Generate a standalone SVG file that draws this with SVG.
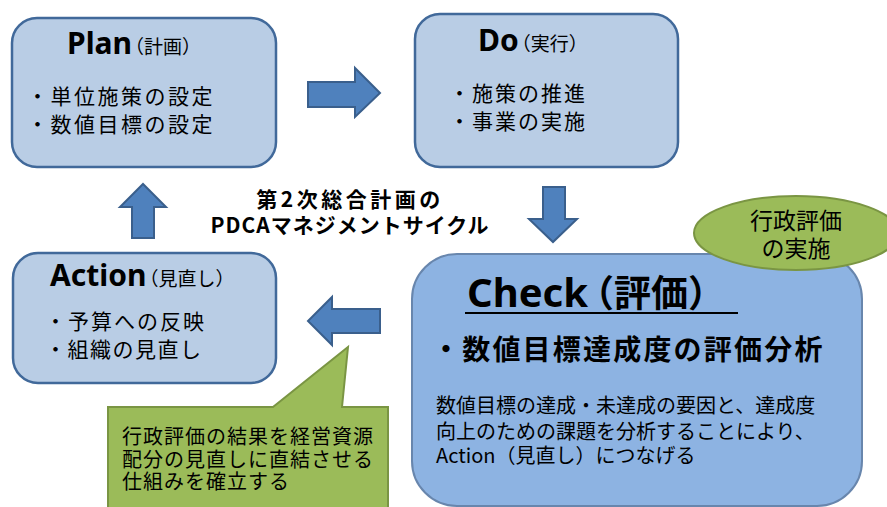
<svg xmlns="http://www.w3.org/2000/svg" width="887" height="507" viewBox="0 0 887 507">
<style>
text{font-family:"Noto Sans CJK JP","Noto Sans",sans-serif;fill:#000}
.lat{font-family:"Noto Sans","Noto Sans CJK JP",sans-serif}
.box{fill:#b9cde5;stroke:#41699a;stroke-width:2.5}
.chk{fill:#8db3e2;stroke:#6886ad;stroke-width:2}
.arr{fill:#4f81bd;stroke:#3a5f8c;stroke-width:2}
.grn{fill:#9bbb59;stroke:#7a9543;stroke-width:2}
.ttl{font-weight:bold;font-size:30px}
.sub{font-size:19px;font-weight:normal;font-family:"Noto Sans CJK JP",sans-serif}
.bul{font-size:21px}
.txt{font-size:20px}
</style>
<g id="connectors">
<polygon class="arr" points="308,82 355,82 355,68 380,93 355,117 355,107 308,107"/>
<polygon class="arr" points="543,187 565,187 565,219 577,219 553,242 529,219 543,219"/>
<polygon class="arr" points="380,309 332,309 332,297 308,321 332,345 332,333 380,333"/>
<polygon class="arr" points="132,238 154,238 154,207 166,207 143,184 120,207 132,207"/>
</g>
<g id="plan">
<rect class="box" x="12" y="18" width="264" height="149" rx="25"/>
<text x="67" y="54" class="ttl lat">Plan<tspan class="sub" dx="-7">（計画）</tspan></text>
<text class="bul" letter-spacing="2.5"><tspan x="27" y="104">・単位施策の設定</tspan><tspan x="27" y="132">・数値目標の設定</tspan></text>
</g>
<g id="do">
<rect class="box" x="415" y="14" width="263" height="153" rx="25"/>
<text x="478" y="51" class="ttl lat">Do<tspan class="sub" dx="-7">（実行）</tspan></text>
<text class="bul" letter-spacing="2"><tspan x="449" y="101">・施策の推進</tspan><tspan x="449" y="129">・事業の実施</tspan></text>
</g>
<g id="title">
<text font-size="21" font-weight="bold" text-anchor="middle"><tspan x="350" y="207" letter-spacing="3.5">第2次総合計画の</tspan><tspan x="350" y="233" letter-spacing="1">PDCAマネジメントサイクル</tspan></text>
</g>
<g id="action">
<rect class="box" x="13" y="253" width="263" height="130" rx="25"/>
<text x="50" y="286" class="ttl lat">Action<tspan class="sub" dx="-7">（見直し）</tspan></text>
<text class="bul"><tspan x="45" y="329" letter-spacing="2">・予算への反映</tspan><tspan x="45" y="357" letter-spacing="1.5">・組織の見直し</tspan></text>
</g>
<g id="check">
<rect class="chk" x="412" y="254" width="450" height="252" rx="45"/>
<text x="467" y="307" font-weight="bold" font-size="40" class="lat">Check<tspan font-size="37" dx="-11" style="font-family:'Noto Sans CJK JP',sans-serif">（評価）</tspan></text>
<line x1="465" y1="313" x2="738" y2="313" stroke="#000" stroke-width="2"/>
<text x="432" y="360" font-weight="bold" font-size="28" letter-spacing="2.2">・数値目標達成度の評価分析</text>
<text class="txt"><tspan x="436" y="413">数値目標の達成・未達成の要因と、達成度</tspan><tspan x="436" y="439">向上のための課題を分析することにより、</tspan><tspan x="436" y="463">Action（見直し）につなげる</tspan></text>
</g>
<g id="ellipse">
<ellipse class="grn" cx="796" cy="233" rx="102" ry="37"/>
<text font-size="23" text-anchor="middle"><tspan x="796" y="229">行政評価</tspan><tspan x="796" y="257">の実施</tspan></text>
</g>
<g id="callout">
<path class="grn" d="M108,407 L273,407 L348,347 L342,407 L388,407 L388,512 L108,512 Z"/>
<text class="txt" letter-spacing="1"><tspan x="122" y="444">行政評価の結果を経営資源</tspan><tspan x="122" y="467">配分の見直しに直結させる</tspan><tspan x="122" y="489">仕組みを確立する</tspan></text>
</g>
</svg>
